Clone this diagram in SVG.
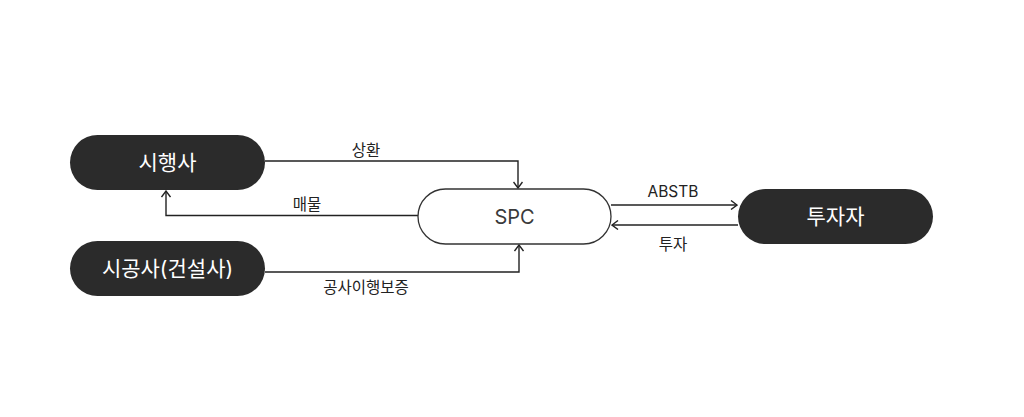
<svg xmlns="http://www.w3.org/2000/svg" width="1024" height="417" viewBox="0 0 1024 417">
<style>
.dark{fill:#2b2b2b;}
.light{fill:#ffffff;stroke:#333333;stroke-width:1.3;}
.nt{font-family:"Inter","Noto Sans CJK KR",sans-serif;font-size:21px;fill:#ffffff;text-anchor:middle;}
.st{font-family:"Inter","Noto Sans CJK KR",sans-serif;font-size:20px;fill:#3a3a3a;text-anchor:middle;}
.lb{font-family:"Inter","Noto Sans CJK KR",sans-serif;font-size:15.5px;fill:#222222;text-anchor:middle;}
.c{fill:none;stroke:#222222;stroke-width:1.4;}
</style>
<defs>
<marker id="ah" viewBox="0 0 10 10" refX="9" refY="5" markerWidth="10" markerHeight="10" markerUnits="userSpaceOnUse" orient="auto">
<polyline points="3,0.5 9,5 3,9.5" fill="none" stroke="#222222" stroke-width="1.4"/>
</marker>
</defs>
<rect width="1024" height="417" fill="#ffffff"/>
<g id="connectors">
<path class="c" d="M265,161 H518 V188" marker-end="url(#ah)"/>
<path class="c" d="M418,215.5 H166 V191" marker-end="url(#ah)"/>
<path class="c" d="M265,272 H519 V245" marker-end="url(#ah)"/>
<path class="c" d="M611,205 H737" marker-end="url(#ah)"/>
<path class="c" d="M738,225 H612" marker-end="url(#ah)"/>
<text class="lb" x="366" y="156">상환</text>
<text class="lb" x="307" y="210">매물</text>
<text class="lb" x="366" y="293">공사이행보증</text>
<text class="lb" x="673" y="197">ABSTB</text>
<text class="lb" x="673" y="250">투자</text>
</g>
<g id="node-sihaengsa">
<rect class="dark" x="70" y="135" width="195" height="55" rx="27.5"/>
<text class="nt" x="167.5" y="169.5">시행사</text>
</g>
<g id="node-sigongsa">
<rect class="dark" x="70" y="241" width="195" height="55" rx="27.5"/>
<text class="nt" x="167.5" y="275.5">시공사(건설사)</text>
</g>
<g id="node-spc">
<rect class="light" x="418" y="189" width="193" height="55" rx="27.5"/>
<text class="st" x="514.5" y="223.5">SPC</text>
</g>
<g id="node-investor">
<rect class="dark" x="738" y="189" width="195" height="55" rx="27.5"/>
<text class="nt" x="835.5" y="223.5">투자자</text>
</g>
</svg>
